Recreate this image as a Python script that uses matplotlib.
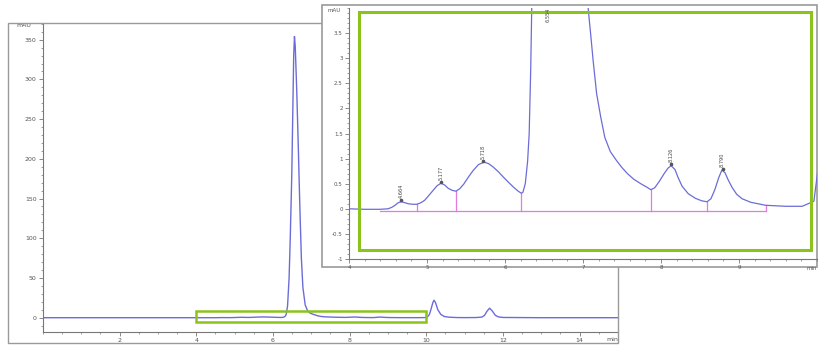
import numpy as np
import matplotlib
matplotlib.use("Agg")
import matplotlib.pyplot as plt
from matplotlib.patches import Rectangle
from matplotlib.ticker import MultipleLocator

# ---- data ----
time_min = [0, 1, 2, 3, 4.0, 4.2, 4.4, 4.5, 4.55, 4.59, 4.63, 4.67, 4.72, 4.76, 4.82, 4.87,
            4.92, 4.97, 5.02, 5.08, 5.13, 5.18, 5.23, 5.27, 5.32, 5.37, 5.42, 5.47, 5.53,
            5.59, 5.66, 5.73, 5.79, 5.85, 5.92, 5.98, 6.05, 6.11, 6.17, 6.21, 6.23, 6.26,
            6.29, 6.31, 6.33, 6.345, 6.38, 6.42, 6.45, 6.49, 6.52, 6.54, 6.56, 6.58, 6.62,
            6.66, 6.70, 6.74, 6.78, 6.84, 6.91, 6.98, 7.03, 7.068, 7.10, 7.13, 7.175, 7.227,
            7.28, 7.35, 7.43, 7.50, 7.57, 7.65, 7.74, 7.82, 7.87, 7.92, 7.98, 8.04, 8.09,
            8.13, 8.18, 8.22, 8.27, 8.35, 8.44, 8.52, 8.59, 8.64, 8.69, 8.74, 8.78, 8.82,
            8.86, 8.91, 8.97, 9.04, 9.15, 9.34, 9.6, 9.81, 9.96, 10.03, 10.08, 10.13, 10.17,
            10.20, 10.24, 10.30, 10.38, 10.47, 10.6, 10.8, 11.0, 11.3, 11.45, 11.52, 11.58,
            11.65, 11.72, 11.8, 11.88, 12.0, 13, 14, 15]
absorb_mau = [0, 0, 0, 0, 0.0, -0.01, -0.01, 0.0, 0.03, 0.07, 0.12, 0.14, 0.12, 0.10, 0.09, 0.09,
              0.12, 0.17, 0.26, 0.37, 0.46, 0.51, 0.47, 0.41, 0.37, 0.35, 0.40, 0.49, 0.63,
              0.76, 0.88, 0.93, 0.90, 0.83, 0.73, 0.63, 0.52, 0.43, 0.35, 0.31, 0.33, 0.50,
              0.95, 1.5, 2.8, 4.2, 15, 50, 100, 180, 270, 330, 354, 342, 285,
              215, 140, 75, 38, 16, 8, 5.5, 4.6, 3.96, 3.45, 2.95, 2.29, 1.83,
              1.42, 1.14, 0.96, 0.82, 0.70, 0.59, 0.50, 0.43, 0.38, 0.42, 0.55, 0.70, 0.81,
              0.86, 0.78, 0.62, 0.45, 0.30, 0.21, 0.16, 0.14, 0.20, 0.38, 0.62, 0.77, 0.72,
              0.58, 0.43, 0.29, 0.20, 0.13, 0.07, 0.05, 0.05, 0.15, 1.0, 4, 12, 19,
              22, 19, 10, 4, 1.5, 0.6, 0.2, 0.1, 0.2, 0.8, 3, 8,
              12, 8.5, 3, 1, 0.3, 0.0, 0.0, 0.0]

peak_times = [4.664, 5.177, 5.718, 6.554, 8.126, 8.790]
peak_labels = ["4.664", "5.177", "5.718", "6.554", "8.126", "8.790"]
drop_times = [4.87, 5.37, 6.21, 7.87, 8.59, 9.35]
baseline_start, baseline_end, baseline_level = 4.4, 9.35, -0.04

main_yticks = [0, 50, 100, 150, 200, 250, 300, 350]
main_xticks = [2, 4, 6, 8, 10, 12, 14]
inset_yticks = [-1, -0.5, 0, 0.5, 1, 1.5, 2, 2.5, 3, 3.5]
inset_xticks = [4, 5, 6, 7, 8, 9]

# ---- styling ----
W, H = 828, 347
LINE = "#6c6cd8"
GREEN = "#8cc21e"
PINK = "#e27ae0"
FRAME = "#9a9a9a"
TXT = "#555555"
plt.rcParams['font.family'] = ['DejaVu Sans']

fig = plt.figure(figsize=(W / 100, H / 100), dpi=100)
fig.patch.set_facecolor("white")

def fx(px):
    return px / W

def fy(py):
    return 1 - py / H

# outer frame of main chart
fig.patches.append(Rectangle((fx(8), fy(343)), fx(618) - fx(8), fy(23) - fy(343),
                             transform=fig.transFigure, fill=False, ec=FRAME, lw=1.0, zorder=0))

def style_axes(ax, fs):
    for s in ["top", "right"]:
        ax.spines[s].set_visible(False)
    for s in ["left", "bottom"]:
        ax.spines[s].set_color("#777777")
        ax.spines[s].set_linewidth(0.8)
    ax.tick_params(which="major", length=3, width=0.6, color="#777777", labelsize=fs,
                   labelcolor=TXT, pad=1.5)
    ax.tick_params(which="minor", length=1.5, width=0.5, color="#777777")
    ax.set_facecolor("white")

# ---- main axes ----
ax = fig.add_axes([fx(43), fy(332), fx(618) - fx(43), fy(23) - fy(332)])
ax.plot(time_min, absorb_mau, color=LINE, lw=1.0)
ax.set_xlim(0, 15)
ax.set_ylim(-18, 371)
ax.set_xticks(main_xticks)
ax.set_yticks(main_yticks)
ax.xaxis.set_minor_locator(MultipleLocator(0.5))
ax.yaxis.set_minor_locator(MultipleLocator(10))
style_axes(ax, 4.5)
ax.add_patch(Rectangle((4.0, -6), 6.0, 15, fill=False, ec=GREEN, lw=1.8, zorder=3))
ax.text(-0.3, 371, "mAU", fontsize=4.5, color=TXT, ha="right", va="top")
ax.text(14.85, -18 - 6, "min", fontsize=4.5, color=TXT, ha="center", va="top", clip_on=False)

# ---- inset frame ----
fig.patches.append(Rectangle((fx(322), fy(267)), fx(817) - fx(322), fy(5) - fy(267),
                             transform=fig.transFigure, fc="white", ec=FRAME, lw=1.2, zorder=5))

# ---- inset axes ----
ia = fig.add_axes([fx(349), fy(259), fx(817) - fx(349), fy(8) - fy(259)], zorder=6)
ia.plot(time_min, absorb_mau, color=LINE, lw=0.9, zorder=3)
ia.set_xlim(4, 10)
ia.set_ylim(-1, 4)
ia.set_xticks(inset_xticks)
ia.set_yticks(inset_yticks)
ia.set_yticklabels(["-1", "-0.5", "0", "0.5", "1", "1.5", "2", "2.5", "3", "3.5"])
ia.xaxis.set_minor_locator(MultipleLocator(0.2))
ia.yaxis.set_minor_locator(MultipleLocator(0.1))
style_axes(ia, 4)
ia.patch.set_alpha(0)
ia.text(3.9, 4.0, "mAU", fontsize=4, color=TXT, ha="right", va="top")
ia.text(9.93, -1.13, "min", fontsize=4, color=TXT, ha="center", va="top", clip_on=False)

# integration baseline and drop lines
ia.plot([baseline_start, baseline_end], [baseline_level, baseline_level], color=PINK, lw=0.9, zorder=2)
for t in drop_times:
    ia.plot([t, t], [baseline_level, np.interp(t, time_min, absorb_mau)], color=PINK, lw=0.9, zorder=2)

# peak labels
for t, lab in zip(peak_times, peak_labels):
    h = np.interp(t, time_min, absorb_mau)
    if h > 3.5:
        ia.text(t, 3.72, lab, rotation=90, fontsize=3.6, color="#444444",
                ha="center", va="bottom", clip_on=False, zorder=7)
    else:
        ia.plot([t], [h + 0.03], marker="o", ms=1.6, color="#555555", zorder=4)
        ia.text(t, h + 0.07, lab, rotation=90, fontsize=3.6, color="#444444",
                ha="center", va="bottom", zorder=7)

ia.add_patch(Rectangle((4.13, -0.82), 9.92 - 4.13, 3.93 + 0.82, fill=False, ec=GREEN, lw=2.2,
                       zorder=4, clip_on=False))

fig.savefig("out.png", dpi=100, facecolor="white")
